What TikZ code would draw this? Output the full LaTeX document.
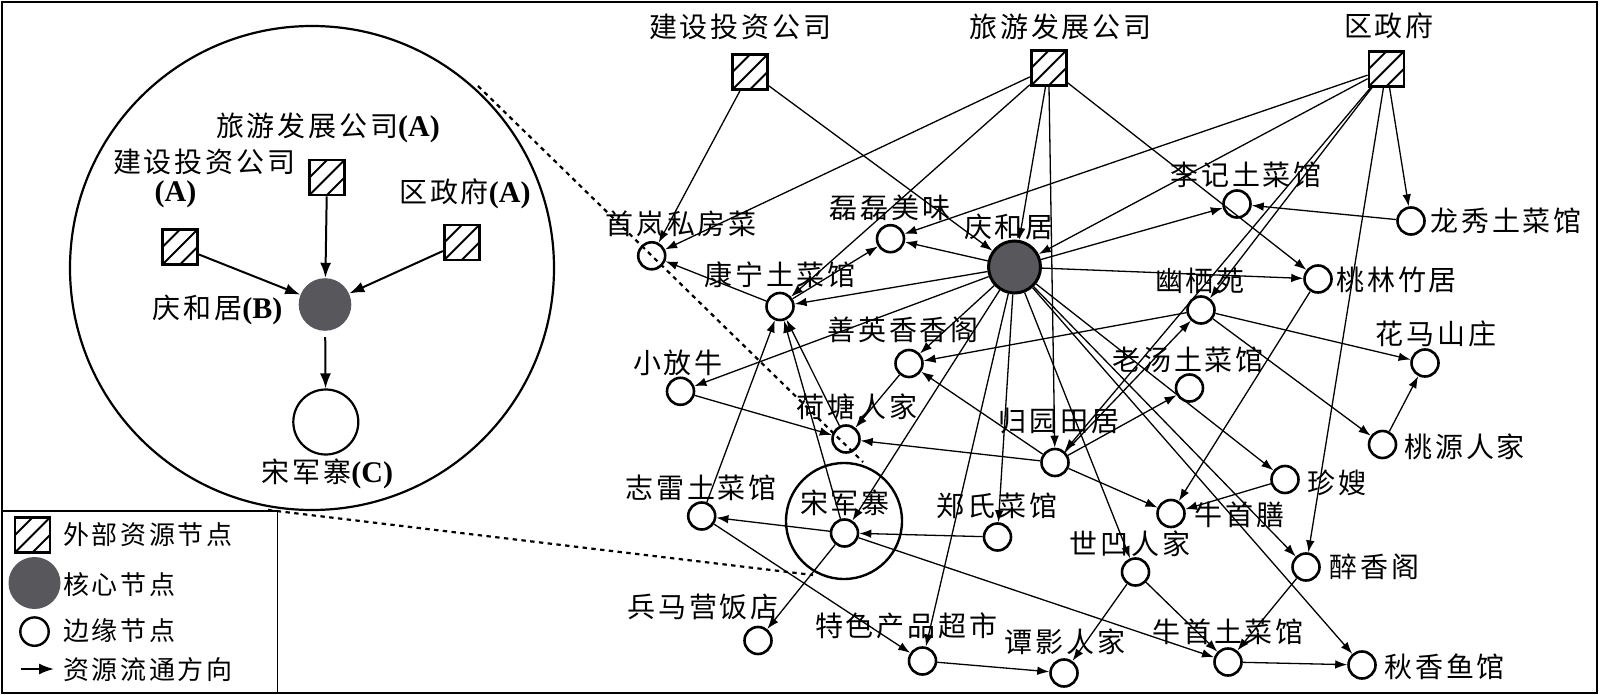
\documentclass[tikz,border=0pt]{standalone}
\usepackage{fontspec}
\setmainfont{Noto Sans CJK SC}[LetterSpace=10]
\newfontfamily\latf{Liberation Serif}
\usetikzlibrary{arrows.meta,calc}
\definecolor{coregray}{HTML}{58585C}
\tikzset{
  extnode/.style={rectangle,draw,line width=1.4pt,minimum size=17.5pt,inner sep=0pt,
    path picture={\foreach \hk in {-28.75,-20,-11.25}{\draw[line width=1pt] ([shift={(-20pt,\hk pt)}]path picture bounding box.center) -- ++(40pt,40pt);}}},
  pernode/.style={circle,draw,line width=1.3pt,minimum size=13.5pt,inner sep=0pt},
  corenode/.style={circle,draw,fill=coregray,line width=1.5pt,minimum size=26pt,inner sep=0pt},
  lbl/.style={inner sep=0pt,font=\fontsize{14pt}{16pt}\selectfont},
  lgl/.style={inner sep=0pt,anchor=west,font=\fontsize{13pt}{15pt}\selectfont},
  flow/.style={line width=0.65pt,-{Latex[length=6pt,width=4.3pt]}},
  bigflow/.style={line width=1pt,-{Latex[length=7.5pt,width=5.5pt]}},
  zoomline/.style={line width=1.1pt,dash pattern=on 2.2pt off 2.2pt},
}
\newcommand{\latin}[1]{{\latf\bfseries\fontsize{15pt}{16pt}\selectfont #1}}
\begin{document}
\begin{tikzpicture}[x=0.5pt,y=-0.5pt]
\useasboundingbox (0,0) rectangle (1600,695);
\draw[line width=1.4pt] (2,2) rectangle (1597,693);

% ---------- inset (left) ----------
\node[circle,draw,line width=1.1pt,minimum size=242pt,inner sep=0pt] (bigc) at (312,268) {};
\node[extnode] (ily) at (327,177.5) {};
\node[extnode] (ijs) at (180,247) {};
\node[extnode] (iqz) at (461.7,242.5) {};
\node[circle,fill=coregray,minimum size=26.3pt,inner sep=0pt] (iqh) at (325,304.5) {};
\node[circle,draw,line width=1.1pt,minimum size=32.5pt,inner sep=0pt] (isjz) at (325.8,422) {};
\node[lbl] (tily) at (328,127.5) {旅游发展公司\latin{(A)}};
\node[lbl] (tijs) at (204,161.5) {建设投资公司};
\node[lbl] (tijsa) at (175.5,194.5) {\latin{(A)}};
\node[lbl] (tiqz) at (465,194) {区政府\latin{(A)}};
\node[lbl] (tiqh) at (217.5,309.5) {庆和居\latin{(B)}};
\node[lbl] (tisjz) at (327.5,473.5) {宋军寨\latin{(C)}};
\draw[bigflow] (ily) -- (iqh);
\draw[bigflow] (ijs) -- (iqh);
\draw[bigflow] (iqz) -- (iqh);
\draw[bigflow,shorten <=3pt] (iqh) -- (isjz);

% ---------- legend ----------
\draw[line width=0.7pt] (2,511) -- (277.5,511) -- (277.5,693);
\node[extnode] (lg1) at (32.5,535) {};
\node[circle,fill=coregray,minimum size=26pt,inner sep=0pt] (lg2) at (34.5,583) {};
\node[circle,draw,line width=1.2pt,minimum size=14.2pt,inner sep=0pt] (lg3) at (34.5,631.6) {};
\coordinate (lga) at (21,669);
\coordinate (lgb) at (54,669);
\draw[bigflow] (lga) -- (lgb);
\node[lgl] (tlg1) at (63,535) {外部资源节点};
\node[lgl] (tlg2) at (63,585) {核心节点};
\node[lgl] (tlg3) at (63,631) {边缘节点};
\node[lgl] (tlg4) at (63,670) {资源流通方向};

% ---------- network ----------
\node[extnode] (js) at (750,72) {};
\node[extnode] (ly) at (1048.7,68) {};
\node[extnode] (qz) at (1386.5,68.7) {};
\node[corenode] (qh) at (1014.5,267) {};
\node[pernode] (sl) at (651.7,255.8) {};
\node[pernode] (ll) at (890.5,238.7) {};
\node[pernode] (kn) at (780,306.5) {};
\node[pernode] (lj) at (1237,204) {};
\node[pernode] (lx) at (1411,221) {};
\node[pernode] (tl) at (1318,279) {};
\node[pernode] (yq) at (1201,310) {};
\node[pernode] (sy) at (909,363.5) {};
\node[pernode] (xf) at (680.5,391.3) {};
\node[pernode] (ht) at (846,439) {};
\node[pernode] (gy) at (1055,462.5) {};
\node[pernode] (lt) at (1189.5,388) {};
\node[pernode] (hm) at (1425,363) {};
\node[pernode] (ty) at (1382.5,444.5) {};
\node[pernode] (zs) at (1285,479.5) {};
\node[pernode] (nss) at (1171,513.5) {};
\node[pernode] (sjz) at (844.5,533) {};
\node[circle,draw,line width=1.2pt,minimum size=58pt,inner sep=0pt] (ring) at (844,521) {};
\node[pernode] (zl) at (701.7,516) {};
\node[pernode] (zsc) at (997.5,537) {};
\node[pernode] (sa) at (1135.5,572) {};
\node[pernode] (zx) at (1306,567) {};
\node[pernode] (bm) at (758,640.5) {};
\node[pernode] (ts) at (922.5,661) {};
\node[pernode] (tyr) at (1064,673) {};
\node[pernode] (nst) at (1228,662) {};
\node[pernode] (qx) at (1362,665) {};

% labels
\node[lbl] (tjs) at (740,27) {建设投资公司};
\node[lbl] (tly) at (1060.5,27) {旅游发展公司};
\node[lbl] (tqz) at (1389,26) {区政府};
\node[lbl] (tsl) at (681,224) {首岚私房菜};
\node[lbl] (tll) at (890,208) {磊磊美味};
\node[lbl] (tqh) at (1009,227) {庆和居};
\node[lbl] (tkn) at (780,275) {康宁土菜馆};
\node[lbl] (tlj) at (1246,175) {李记土菜馆};
\node[lbl,anchor=west] (tlx) at (1430,221) {龙秀土菜馆};
\node[lbl,anchor=west] (ttl) at (1336,280) {桃林竹居};
\node[lbl] (tyq) at (1200,281) {幽栖苑};
\node[lbl] (tsy) at (903,330) {善英香香阁};
\node[lbl] (txf) at (678,363) {小放牛};
\node[lbl] (thm) at (1436,334) {花马山庄};
\node[lbl] (tlt) at (1188,359.5) {老汤土菜馆};
\node[lbl] (tht) at (857,407) {荷塘人家};
\node[lbl] (tgy) at (1059,421) {归园田居};
\node[lbl,anchor=west] (tty) at (1404,447) {桃源人家};
\node[lbl,anchor=west] (tzs) at (1307,483) {珍嫂};
\node[lbl] (tzl) at (701,488) {志雷土菜馆};
\node[lbl] (tsjz) at (845,502.5) {宋军寨};
\node[lbl] (tzsc) at (997,505.5) {郑氏菜馆};
\node[lbl,anchor=west] (tnss) at (1194,515) {牛首膳};
\node[lbl] (tsa) at (1130,544) {世凹人家};
\node[lbl,anchor=west] (tzx) at (1329,567) {醉香阁};
\node[lbl] (tbm) at (703,607) {兵马营饭店};
\node[lbl] (tts) at (906,626) {特色产品超市};
\node[lbl] (tnst) at (1228,632) {牛首土菜馆};
\node[lbl] (ttyr) at (1065,642) {谭影人家};
\node[lbl,anchor=west] (tqx) at (1384,667) {秋香鱼馆};

% edges
\foreach \a/\b in {js/sl, js/qh,
  ly/sl, ly/kn, ly/qh, ly/gy, ly/tl,
  qz/ll, qz/qh, qz/yq, qz/gy, qz/zx, qz/lx,
  lx/lj,
  qh/lj, qh/tl, qh/ll, qh/kn, qh/xf, qh/sy, qh/sjz, qh/ts, qh/zsc, qh/sa, qh/qx, qh/zx, qh/zs,
  kn/sl, kn/ll, zl/kn, sjz/kn, ht/kn,
  xf/ht, sy/ht, gy/ht, yq/sy, gy/sy,
  gy/yq, gy/lt, gy/nss, yq/ty, yq/hm, ty/hm,
  zs/nss, tl/nss, sa/tyr, sa/nst, ts/tyr, zx/nst, nst/qx,
  sjz/zl, sjz/bm, sjz/nst, zsc/sjz, zl/ts}
  \draw[flow] (\a) -- (\b);

% zoom lines
\coordinate (d1) at (478,86);
\coordinate (d2) at (863,462);
\coordinate (d3) at (268,510);
\coordinate (d4) at (813,575);
\draw[zoomline] (d1) -- (d2);
\draw[zoomline] (d3) -- (d4);
\end{tikzpicture}
\end{document}
